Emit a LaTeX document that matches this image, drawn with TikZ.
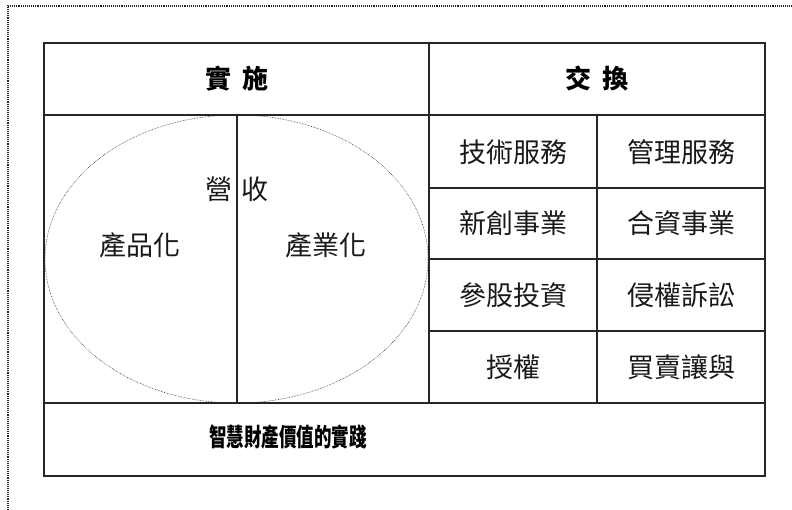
\documentclass[tikz,border=0pt]{standalone}
\usepackage{fontspec}
\newfontfamily\tc{Noto Sans CJK TC}
\begin{document}
\begin{tikzpicture}[x=1pt,y=-1pt,
  grid/.style={draw=black!85,line width=1.1pt},
  cell/.style={font=\tc\fontsize{27}{27}\selectfont,inner sep=0pt,text=black!90},
  head/.style={font=\tc\bfseries\fontsize{26}{26}\selectfont,inner sep=0pt},
  frame/.style={draw=black!85,densely dotted,line width=1.1pt},
  oval/.style={draw=black!80,densely dotted,line width=0.6pt}]
\useasboundingbox (0,0) rectangle (792,510);
% outer dotted frame (top and left)
\coordinate (f1) at (8,6);
\coordinate (f2) at (792,6);
\coordinate (f3) at (8,510);
\draw[frame] (f3) -- (f1) -- (f2);
% ellipse
\draw[oval] (236.5,259) ellipse [x radius=191.5, y radius=144];
% table
\draw[grid] (44,43) rectangle (765,476);
\draw[grid] (44,115) -- (765,115);
\draw[grid] (44,403) -- (765,403);
\draw[grid] (429,43) -- (429,403);
\draw[grid] (237,115) -- (237,403);
\draw[grid] (597,115) -- (597,403);
\draw[grid] (429,188) -- (765,188);
\draw[grid] (429,259) -- (765,259);
\draw[grid] (429,331) -- (765,331);
% headers
\node[head] (h1) at (237,79) {實\hspace{0.45em}施};
\node[head] (h2) at (597,79) {交\hspace{0.45em}換};
% left area
\node[cell] (y1) at (219,189) {營};
\node[cell] (y2) at (255,189) {收};
\node[cell] (p1) at (140,245) {產品化};
\node[cell] (p2) at (326,245) {產業化};
% right grid
\node[cell] (c11) at (513,152) {技術服務};
\node[cell] (c12) at (681,152) {管理服務};
\node[cell] (c21) at (513,223) {新創事業};
\node[cell] (c22) at (681,223) {合資事業};
\node[cell] (c31) at (513,295) {參股投資};
\node[cell] (c32) at (681,295) {侵權訴訟};
\node[cell] (c41) at (513,367) {授權};
\node[cell] (c42) at (681,367) {買賣讓與};
% bottom
\node[head,font=\tc\bfseries\fontsize{25}{25}\selectfont] (b) at (288,437) {\scalebox{0.7}[1]{智慧財產價值的實踐}};
\end{tikzpicture}
\end{document}
